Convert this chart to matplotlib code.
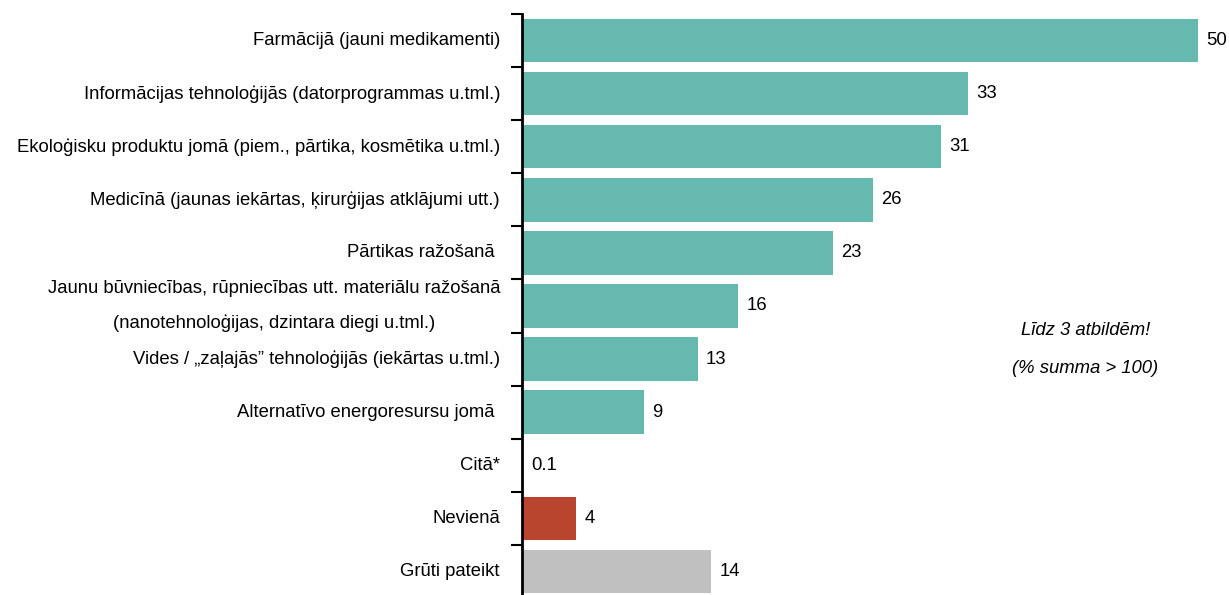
import numpy as np
import matplotlib.pyplot as plt
from matplotlib.transforms import ScaledTranslation

categories = [
    'Farmācijā (jauni medikamenti)',
    'Informācijas tehnoloģijās (datorprogrammas u.tml.)',
    'Ekoloģisku produktu jomā (piem., pārtika, kosmētika u.tml.)',
    'Medicīnā (jaunas iekārtas, ķirurģijas atklājumi utt.)',
    'Pārtikas ražošanā ',
    'Jaunu būvniecības, rūpniecības utt. materiālu ražošanā\n(nanotehnoloģijas, dzintara diegi u.tml.)',
    'Vides / „zaļajās” tehnoloģijās (iekārtas u.tml.)',
    'Alternatīvo energoresursu jomā ',
    'Citā*',
    'Nevienā',
    'Grūti pateikt',
]
values = [50, 33, 31, 26, 23, 16, 13, 9, 0.1, 4, 14]
value_labels = ['50', '33', '31', '26', '23', '16', '13', '9', '0.1', '4', '14']
groups = ['area'] * 9 + ['none', 'unknown']

palette = {'area': '#66B9AF', 'none': '#B9452F', 'unknown': '#C0C0C0'}

plt.rcParams['font.family'] = ['Liberation Sans', 'DejaVu Sans']
FS = 13.3

fig = plt.figure(figsize=(12.29, 5.95), dpi=100)
ax = fig.add_axes([522 / 1229, 1 - 598 / 595, 707 / 1229, 584 / 595])

y = np.arange(len(categories))
colors = [palette[g] for g in groups]
ax.barh(y, values, height=0.82, color=colors)

for yi, v, lab in zip(y, values, value_labels):
    ax.text(v + 0.6, yi, lab, va='center', ha='left', fontsize=FS)

# category names right-aligned next to the axis
label_tr = ax.get_yaxis_transform() + ScaledTranslation(-22 / 100, 0, fig.dpi_scale_trans)
for yi, cat in zip(y, categories):
    ax.text(0, yi, cat, transform=label_tr, ha='right', va='center',
            fontsize=FS, linespacing=2.25, multialignment='center')

ax.set_xlim(0, 52.3)
ax.set_ylim(len(categories) - 0.5, -0.5)

ax.set_yticks(np.arange(len(categories) + 1) - 0.5)
ax.set_yticklabels([])
ax.tick_params(axis='y', length=8, width=1.5, direction='out')
ax.set_xticks([])

for side in ['top', 'right', 'bottom']:
    ax.spines[side].set_visible(False)
ax.spines['left'].set_linewidth(2)

fig.text(0.883, 0.444, 'Līdz 3 atbildēm!', ha='center', va='center',
         style='italic', fontsize=FS)
fig.text(0.883, 0.380, '(% summa > 100)', ha='center', va='center',
         style='italic', fontsize=FS)

fig.savefig('out.png', dpi=100)
